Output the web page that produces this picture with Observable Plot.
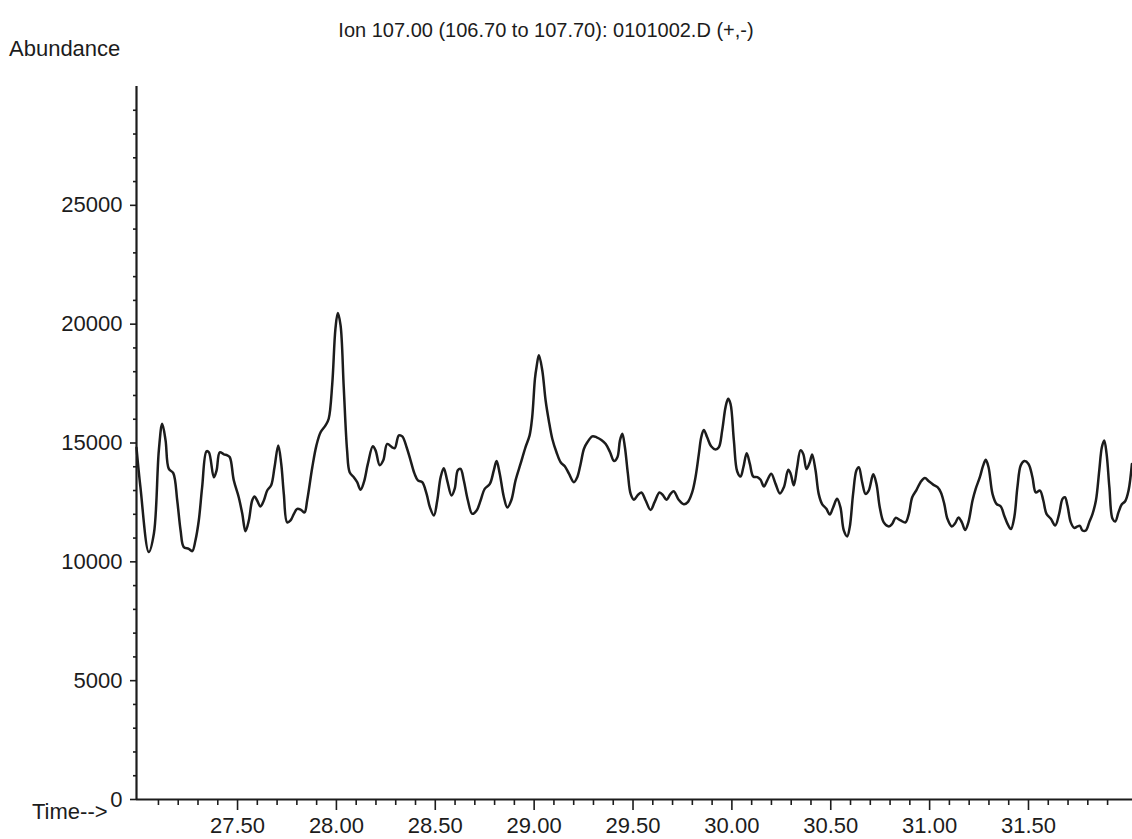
<!DOCTYPE html>
<html>
<head>
<meta charset="utf-8">
<script src="https://cdn.jsdelivr.net/npm/d3@7"></script>
<script src="https://cdn.jsdelivr.net/npm/@observablehq/plot@0.6"></script>
<style>
  html, body { margin: 0; padding: 0; background: #fff; }
  #wrap { position: relative; width: 1132px; height: 839px; font-family: "Liberation Sans", Arial, sans-serif; color: #1c1c1c; }
  .lbl { position: absolute; white-space: nowrap; line-height: 1; }
  #title { left: 546px; top: 20px; font-size: 20px; transform: translateX(-50%); }
  #ylabel { left: 9px; top: 38px; font-size: 22px; }
  #xlabel { left: 32px; top: 801px; font-size: 22px; }
</style>
</head>
<body>
<div id="wrap">
  <div id="chart"></div>
  <div class="lbl" id="title">Ion 107.00 (106.70 to 107.70): 0101002.D (+,-)</div>
  <div class="lbl" id="ylabel">Abundance</div>
  <div class="lbl" id="xlabel">Time--&gt;</div>
</div>
<script>
// Retention time (min)
const times = [
  26.989, 27.009, 27.051, 27.077, 27.102, 27.119, 27.136, 27.152, 27.175, 27.195,
  27.212, 27.228, 27.253, 27.271, 27.287, 27.304, 27.321, 27.343, 27.355, 27.380,
  27.394, 27.410, 27.431, 27.448, 27.461, 27.481, 27.506, 27.524, 27.540, 27.557,
  27.574, 27.586, 27.599, 27.616, 27.633, 27.650, 27.670, 27.687, 27.706, 27.721,
  27.734, 27.751, 27.768, 27.785, 27.802, 27.822, 27.839, 27.852, 27.878, 27.899,
  27.920, 27.945, 27.961, 27.979, 27.995, 28.007, 28.021, 28.037, 28.054, 28.067,
  28.088, 28.105, 28.122, 28.139, 28.159, 28.184, 28.198, 28.219, 28.237, 28.257,
  28.282, 28.295, 28.316, 28.333, 28.355, 28.375, 28.395, 28.412, 28.434, 28.456,
  28.473, 28.493, 28.510, 28.527, 28.543, 28.560, 28.582, 28.598, 28.614, 28.628,
  28.644, 28.665, 28.687, 28.709, 28.729, 28.750, 28.776, 28.796, 28.810, 28.826,
  28.847, 28.864, 28.884, 28.906, 28.931, 28.956, 28.977, 28.990, 29.004, 29.012,
  29.024, 29.041, 29.058, 29.074, 29.092, 29.113, 29.134, 29.155, 29.176, 29.201,
  29.218, 29.235, 29.252, 29.269, 29.294, 29.316, 29.340, 29.362, 29.384, 29.404,
  29.421, 29.434, 29.446, 29.459, 29.474, 29.488, 29.505, 29.522, 29.542, 29.564,
  29.589, 29.609, 29.634, 29.653, 29.669, 29.690, 29.706, 29.731, 29.757, 29.777,
  29.799, 29.816, 29.833, 29.845, 29.858, 29.875, 29.895, 29.917, 29.934, 29.951,
  29.968, 29.981, 29.993, 30.010, 30.027, 30.044, 30.058, 30.075, 30.091, 30.108,
  30.129, 30.145, 30.162, 30.179, 30.199, 30.221, 30.243, 30.263, 30.285, 30.297,
  30.313, 30.330, 30.347, 30.361, 30.377, 30.394, 30.406, 30.423, 30.439, 30.457,
  30.478, 30.495, 30.512, 30.532, 30.549, 30.566, 30.583, 30.596, 30.613, 30.630,
  30.642, 30.659, 30.676, 30.692, 30.715, 30.731, 30.748, 30.768, 30.794, 30.811,
  30.828, 30.853, 30.878, 30.895, 30.912, 30.934, 30.954, 30.976, 30.996, 31.018,
  31.040, 31.057, 31.074, 31.090, 31.112, 31.129, 31.146, 31.163, 31.180, 31.196,
  31.217, 31.233, 31.254, 31.271, 31.284, 31.298, 31.318, 31.338, 31.360, 31.377,
  31.394, 31.411, 31.428, 31.444, 31.461, 31.479, 31.500, 31.520, 31.537, 31.558,
  31.575, 31.591, 31.613, 31.635, 31.655, 31.672, 31.684, 31.697, 31.714, 31.731,
  31.748, 31.760, 31.773, 31.790, 31.807, 31.824, 31.841, 31.858, 31.871, 31.883,
  31.895, 31.909, 31.925, 31.939, 31.955, 31.972, 31.989, 32.006, 32.023
];
// Abundance
const abundance = [
  14800, 13130, 10410, 11190, 14690, 15810, 15110, 13920, 13730, 12580,
  11320, 10620, 10550, 10450, 10900, 11740, 13140, 14650, 14610, 13560,
  13850, 14610, 14520, 14480, 14400, 13430, 12720, 12020, 11290, 11740,
  12580, 12750, 12580, 12330, 12580, 13000, 13220, 13980, 14900, 14120,
  12860, 11660, 11740, 12020, 12230, 12180, 12080, 12580, 13980, 14900,
  15450, 15740, 16020, 17490, 19800, 20470, 19950, 17350, 14690, 13770,
  13560, 13350, 13030, 13350, 14120, 14860, 14690, 14060, 14270, 14960,
  14820, 14780, 15320, 15280, 14820, 14270, 13710, 13430, 13350, 12860,
  12290, 11950, 12580, 13560, 13940, 13430, 12790, 13070, 13850, 13910,
  13430, 12580, 12020, 12160, 12580, 13070, 13280, 13850, 14240, 13710,
  12720, 12290, 12580, 13430, 14120, 14820, 15320, 16080, 17700, 18190,
  18690, 18060, 16790, 15950, 15170, 14610, 14190, 14020, 13710, 13350,
  13560, 14120, 14760, 15030, 15280, 15240, 15130, 14960, 14610, 14240,
  14400, 15110, 15390, 14820, 13710, 12860, 12610, 12790, 12920, 12580,
  12180, 12510, 12920, 12790, 12610, 12860, 12970, 12610, 12420, 12510,
  12920, 13560, 14540, 15240, 15550, 15240, 14860, 14730, 14820, 15530,
  16510, 16860, 16650, 15110, 13800, 13590, 13980, 14570, 14120, 13590,
  13560, 13450, 13170, 13430, 13710, 13280, 12880, 13140, 13870, 13710,
  13220, 13980, 14690, 14540, 13910, 14190, 14520, 13850, 12860, 12420,
  12230, 11990, 12290, 12650, 12290, 11320, 11070, 11460, 12860, 13850,
  13980, 13350, 12860, 13000, 13680, 13280, 12290, 11660, 11490, 11600,
  11850, 11740, 11660, 12020, 12720, 13030, 13350, 13530, 13390, 13250,
  13140, 12920, 12440, 11810, 11490, 11620, 11870, 11660, 11340, 11660,
  12580, 13070, 13560, 14060, 14290, 13980, 12860, 12440, 12330, 11950,
  11600, 11380, 11870, 13140, 14060, 14240, 14120, 13560, 12920, 13000,
  12580, 12020, 11810, 11530, 12020, 12650, 12720, 12370, 11660, 11430,
  11490, 11510, 11320, 11320, 11660, 12020, 12580, 13850, 14820, 15110,
  14540, 13140, 11810, 11700, 12080, 12420, 12550, 13000, 14120
];

const xDomain = [26.989, 32.026];
const yDomain = [0, 30000];
const xMajorTicks = [27.5, 28.0, 28.5, 29.0, 29.5, 30.0, 30.5, 31.0, 31.5];
const xMinorTicks = [
  27.1, 27.2, 27.3, 27.4, 27.6, 27.7, 27.8, 27.9, 28.1, 28.2, 28.3, 28.4,
  28.6, 28.7, 28.8, 28.9, 29.1, 29.2, 29.3, 29.4, 29.6, 29.7, 29.8, 29.9,
  30.1, 30.2, 30.3, 30.4, 30.6, 30.7, 30.8, 30.9, 31.1, 31.2, 31.3, 31.4,
  31.6, 31.7, 31.8, 31.9
];
const yMajorTicks = [0, 5000, 10000, 15000, 20000, 25000];
const yMinorTicks = [
  1000, 2000, 3000, 4000, 6000, 7000, 8000, 9000, 11000, 12000, 13000, 14000,
  16000, 17000, 18000, 19000, 21000, 22000, 23000, 24000, 26000, 27000, 28000, 29000
];

const data = times.map((t, i) => ({time: t, abundance: abundance[i]}));
const ink = "#1c1c1c";

const chart = Plot.plot({
  width: 1132,
  height: 839,
  marginLeft: 136,
  marginRight: 0,
  marginTop: 86,
  marginBottom: 40,
  style: {fontFamily: "'Liberation Sans', Arial, sans-serif", fontSize: "22px", color: ink, background: "#fff"},
  x: {domain: xDomain, axis: null},
  y: {domain: yDomain, axis: null},
  marks: [
    Plot.axisY({ticks: yMinorTicks, tickSize: 3, strokeWidth: 1.6, fill: "none", label: null}),
    Plot.axisY({ticks: yMajorTicks, tickSize: 6, tickPadding: 8, strokeWidth: 1.6, tickFormat: d3.format("d"), fontSize: 22, label: null}),
    Plot.axisX({ticks: xMinorTicks, tickSize: 6, strokeWidth: 1.6, fill: "none", label: null}),
    Plot.axisX({ticks: xMajorTicks, tickSize: 11, tickPadding: 7, strokeWidth: 1.6, tickFormat: d3.format(".2f"), fontSize: 22, label: null}),
    Plot.ruleY([yDomain[0]], {stroke: ink, strokeWidth: 2.2}),
    Plot.ruleX([xDomain[0]], {stroke: ink, strokeWidth: 2.2}),
    Plot.line(data, {x: "time", y: "abundance", curve: "catmull-rom", stroke: ink, strokeWidth: 2.5})
  ]
});
document.getElementById("chart").appendChild(chart);
</script>
</body>
</html>
